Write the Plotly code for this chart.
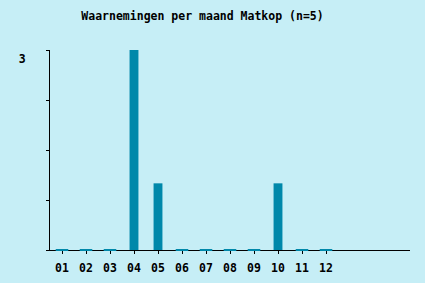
import plotly.graph_objects as go

months = ["01", "02", "03", "04", "05", "06", "07", "08", "09", "10", "11", "12"]
counts = [0, 0, 0, 3, 1, 0, 0, 0, 0, 1, 0, 0]
y_tick_vals = [0, 0.75, 1.5, 2.25, 3]
y_tick_text = ["", "", "", "", "3"]

BG = "#c6eef6"
BAR = "#0088aa"
FONT = "DejaVu Sans Mono"

xpos = list(range(1, len(months) + 1))

fig = go.Figure(go.Bar(
    x=xpos, y=counts, width=0.37,
    marker=dict(color=BAR, line=dict(width=0)),
))
zx = [x for x, c in zip(xpos, counts) if c == 0]
zy = [c for c in counts if c == 0]
fig.add_trace(go.Scatter(
    x=zx, y=zy, mode="markers", cliponaxis=False,
    marker=dict(symbol="line-ew", size=9, line=dict(color=BAR, width=2)),
))

fig.update_layout(
    width=425, height=283,
    paper_bgcolor=BG, plot_bgcolor=BG,
    margin=dict(l=50, r=15, t=50, b=33, autoexpand=False),
    showlegend=False,
    font=dict(family=FONT, size=11, color="#000000"),
    title=dict(text="<b>Waarnemingen per maand Matkop (n=5)</b>",
               x=202.5 / 425, xanchor="center", xref="container",
               y=1 - 16 / 283, yanchor="middle", yref="container",
               font=dict(family=FONT, size=11.5, color="#000000")),
)
fig.update_xaxes(
    range=[0.5, 15.5], tickvals=xpos, ticktext=months,
    showgrid=False, zeroline=False, layer="below traces",
    showline=True, linecolor="#000000", linewidth=1,
    ticks="outside", ticklen=3, tickcolor="#000000",
    tickfont=dict(family=FONT, size=11.5, weight="bold"),
    ticklabelstandoff=4,
)
fig.update_yaxes(
    range=[0, 3], tickvals=y_tick_vals, ticktext=y_tick_text,
    showgrid=False, zeroline=False, layer="below traces",
    showline=True, linecolor="#000000", linewidth=1,
    ticks="outside", ticklen=3, tickcolor="#000000",
    tickfont=dict(family=FONT, size=11.5, weight="bold"),
    ticklabelstandoff=21, ticklabelposition="outside bottom",
)

fig.write_html("out.html")
